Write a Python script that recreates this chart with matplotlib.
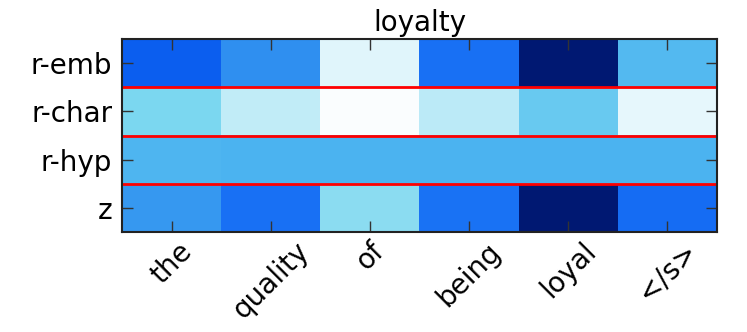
import matplotlib
matplotlib.use("Agg")
import matplotlib.pyplot as plt
import numpy as np
from matplotlib.colors import LinearSegmentedColormap

# words on the x axis, representations on the y axis
words = ['the', 'quality', 'of', 'being', 'loyal', '</s>']
rows = ['r-emb', 'r-char', 'r-hyp', 'z']

# attention-like weights (0 = white, 1 = navy)
r_emb = [0.85, 0.60, 0.06, 0.76, 1.00, 0.42]
r_char = [0.25, 0.12, 0.01, 0.13, 0.33, 0.05]
r_hyp = [0.44, 0.45, 0.45, 0.45, 0.45, 0.45]
z = [0.56, 0.76, 0.22, 0.75, 1.00, 0.78]

weights = np.array([r_emb, r_char, r_hyp, z])

# white -> cyan -> blue -> navy
cmap = LinearSegmentedColormap.from_list('blues', [
    (0.00, '#ffffff'),
    (0.25, '#7cd8f0'),
    (0.45, '#4cb4f0'),
    (0.60, '#2f8ff0'),
    (0.75, '#1a73f5'),
    (0.85, '#0c5ff0'),
    (1.00, '#001872'),
])

fig = plt.figure(figsize=(7.47, 3.32), dpi=100)
ax = fig.add_axes([0.1633, 0.3012, 0.7965, 0.5813])

ax.imshow(weights, cmap=cmap, vmin=0, vmax=1, aspect='auto', interpolation='nearest')

# red separators between the rows
for y in np.arange(len(rows) - 1) + 0.5:
    ax.axhline(y, color='red', linewidth=2)

ax.set_xticks(range(len(words)))
ax.set_xticklabels(words, rotation=45, fontsize=20)
ax.set_yticks(range(len(rows)))
ax.set_yticklabels(rows, fontsize=20)
ax.tick_params(direction='in', length=8, width=1, top=True, right=True, color='#333333')
ax.tick_params(axis='y', pad=7)
for s in ax.spines.values():
    s.set_linewidth(1.5)
    s.set_color('#222222')

ax.set_title('loyalty', fontsize=20)

plt.savefig('out.png', dpi=100)
